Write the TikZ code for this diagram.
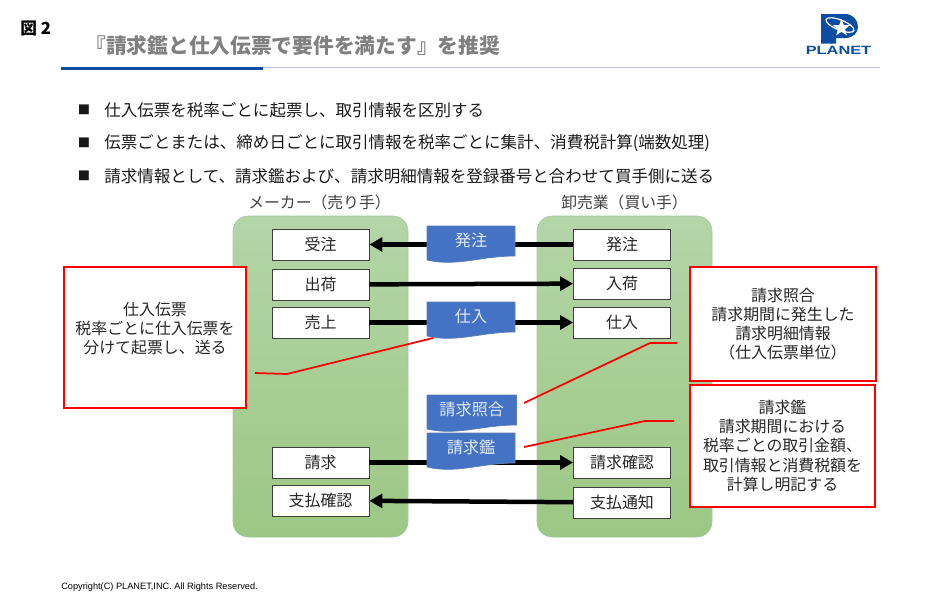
\documentclass[tikz,border=0pt]{standalone}
\usepackage{fontspec}
\setmainfont{Noto Sans CJK JP}
\newfontfamily\latinfont{Liberation Sans}
\usetikzlibrary{arrows.meta, positioning, shapes.geometric, calc}

\begin{document}
\begin{tikzpicture}[
    x=0.02cm, y=-0.02cm,
    box/.style={draw=black!75, line width=0.5pt, fill=white, minimum width=1.94cm,
                minimum height=0.62cm, inner sep=0pt,
                font=\fontsize{9.1pt}{10pt}\selectfont, text=black!85},
    panel/.style={draw=green!40!black!35, line width=0.3pt, rounded corners=0.3cm,
                  top color=panelTop, bottom color=panelBot},
    doc/.style={draw=docEdge, line width=0.4pt, fill=docBlue},
    doclbl/.style={inner sep=0pt, text=white!85!docBlue,
                   font=\fontsize{9.2pt}{10pt}\selectfont},
    flow/.style={line width=0.09cm, -{Triangle[length=0.26cm, width=0.28cm]}},
    note/.style={draw=red, line width=0.04cm, fill=white, inner sep=0pt, align=center,
                 font=\fontsize{9.05pt}{10.85pt}\selectfont, text=black!85},
    lead/.style={draw=red, line width=0.035cm},
    head/.style={inner sep=0pt, font=\fontsize{9pt}{10pt}\selectfont, text=black!75},
    item/.style={anchor=west, inner sep=0pt, font=\fontsize{9.4pt}{11pt}\selectfont,
                 text=black!90},
    >=Stealth
  ]
  \definecolor{panelTop}{HTML}{B4D5A8}
  \definecolor{panelBot}{HTML}{9CC784}
  \definecolor{docBlue}{HTML}{4472C4}
  \definecolor{docEdge}{HTML}{5B7FB5}
  \definecolor{planetBlue}{HTML}{0B4DA2}
  \useasboundingbox (0,0) rectangle (950,603);

  % Header
  \node[anchor=west, inner sep=0pt, font=\fontsize{9.5pt}{11pt}\selectfont\bfseries] (figno)
    at (20,28) {図 2};
  \node[anchor=west, inner sep=0pt, font=\fontsize{11.8pt}{14pt}\selectfont\bfseries,
        text=black!50] (title) at (85,46) {『請求鑑と仕入伝票で要件を満たす』を推奨};
  \draw[draw=blue!30!black!25, line width=0.5pt] (61,67.5) -- (880,67.5);
  \draw[draw=planetBlue, line width=0.07cm] (61,68.5) -- (263,68.5);

  % Logo
  \fill[planetBlue] (821,14) -- (845,14) .. controls (853,14) and (858,20) .. (858,27)
    .. controls (858,33) and (853,38) .. (845,38) -- (836,38) -- (836,43.5)
    -- (821,43.5) -- cycle;
  \draw[white, line width=0.7pt, rotate around={-22:(840,25)}]
    (840,25) ellipse [x radius=15, y radius=5];
  \node[star, star points=5, star point ratio=2.4, fill=white, inner sep=0pt,
        minimum size=0.36cm] (logostar) at (841.5,28) {};
  \node[inner sep=0pt, font=\latinfont\fontsize{6.8pt}{8pt}\selectfont\bfseries,
        text=planetBlue] (planet) at (838.5,50.5) {\scalebox{1.37}[1]{PLANET}};

  % Bullets
  \foreach \t [count=\i from 0] in {
      仕入伝票を税率ごとに起票し、取引情報を区別する,
      伝票ごとまたは、締め日ごとに取引情報を税率ごとに集計、消費税計算(端数処理),
      請求情報として、請求鑑および、請求明細情報を登録番号と合わせて買手側に送る} {
    \node[item] (bul\i) at (77.5,{110+33*\i}) {\fontsize{7pt}{8pt}\selectfont ■};
    \node[item] (itm\i) at (104,{110+33*\i}) {\t};
  }

  % Panels
  \node[head] (maker) at (319.5,202) {メーカー（売り手）};
  \node[head] (whole) at (624.5,202) {卸売業（買い手）};
  \path[panel] (233,216) rectangle (408,537);
  \path[panel] (537,216) rectangle (712,537);

  % Seller boxes
  \foreach \n/\t/\y in {juchu/受注/244.5, shukka/出荷/284.5, uriage/売上/322.5,
                        seikyu/請求/462.5, shiharaik/支払確認/500.5} {
    \node[box] (\n) at (320.5,\y) {\t};
  }

  % Buyer boxes
  \foreach \n/\t/\y in {hatchu/発注/244.5, nyuka/入荷/283.5, shiire/仕入/322.5,
                        seikyuk/請求確認/462.5, shiharait/支払通知/502.5} {
    \node[box] (\n) at (622,\y) {\t};
  }

  % Flows
  \draw[flow] (hatchu) -- (juchu);
  \draw[flow] (shukka) -- (nyuka);
  \draw[flow] (uriage) -- (shiire);
  \draw[flow] (seikyu) -- (seikyuk);
  \draw[flow] (shiharait) -- (shiharaik);

  % Slips
  \foreach \n/\t/\x/\y/\w in {dhatchu/発注/427/226/88, dshiire/仕入/427/302/88,
                              dshogo/請求照合/427/395/89.5, dkagami/請求鑑/427/433/88} {
    \path[doc] (\x,\y) -- ++(\w,0) -- ++(0,30)
      .. controls ++(-35,0) and ++(30,7) .. ++(-\w,4) -- cycle;
    \node[doclbl] (\n) at ({\x+\w/2},{\y+14.5}) {\t};
  }

  % Notes
  \node[note, minimum width=3.64cm, minimum height=2.82cm] (noteden) at (155,337.5)
    {仕入伝票\\税率ごとに仕入伝票を\\分けて起票し、送る\\~};
  \node[note, minimum width=3.72cm, minimum height=2.28cm] (noteshogo) at (783,324)
    {請求照合\\請求期間に発生した\\請求明細情報\\（仕入伝票単位）};
  \node[note, minimum width=3.7cm, minimum height=2.44cm] (notekagami) at (782.5,446)
    {請求鑑\\請求期間における\\税率ごとの取引金額、\\取引情報と消費税額を\\計算し明記する};

  % Leaders
  \coordinate (lead1a) at (255,373);
  \coordinate (lead1b) at (433,338);
  \coordinate (lead2a) at (524,403);
  \coordinate (lead2b) at (677,343);
  \coordinate (lead3a) at (524,447);
  \coordinate (lead3b) at (674,421);
  \draw[lead] (lead1a) -- (287,374) -- (lead1b);
  \draw[lead] (lead2a) -- (650,343) -- (lead2b);
  \draw[lead] (lead3a) -- (645,421) -- (lead3b);

  % Footer
  \node[anchor=west, inner sep=0pt, font=\latinfont\fontsize{5.24pt}{6pt}\selectfont] (copy)
    at (61,587) {Copyright(C) PLANET,INC. All Rights Reserved.};
\end{tikzpicture}
\end{document}
